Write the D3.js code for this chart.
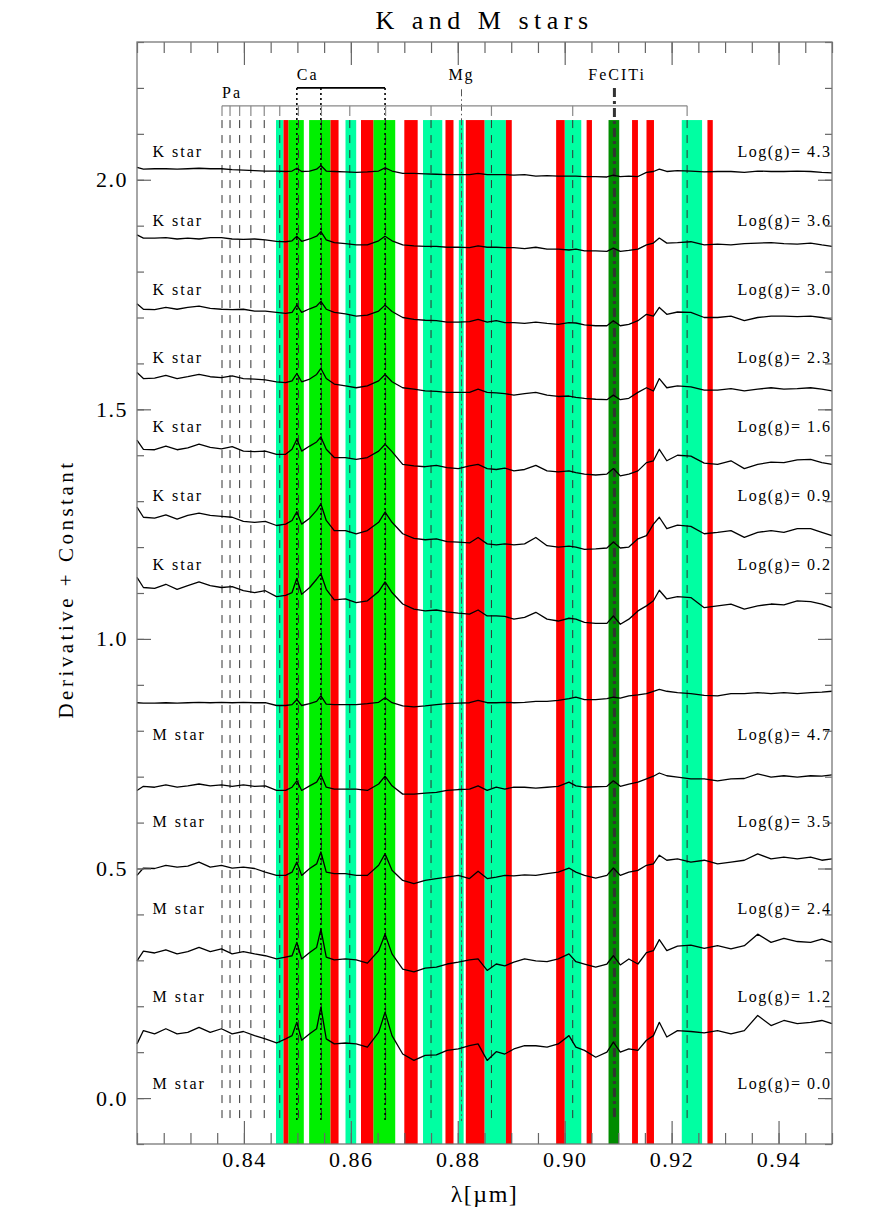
<!DOCTYPE html>
<html>
<head>
<meta charset="utf-8">
<script src="https://cdn.jsdelivr.net/npm/d3@7"></script>
<style>
  body { margin: 0; background: #fff; }
  svg text { font-family: "Liberation Serif", "DejaVu Serif", "Times New Roman", serif; fill: #000; }
</style>
</head>
<body>
<div id="viz"></div>
<script>
// wavelength grid (micron) shared by all spectra
const lam = [0.8200,0.8212,0.8233,0.8254,0.8275,0.8295,0.8316,0.8337,0.8358,0.8378,0.8399,0.8420,0.8440,0.8461,0.8478,0.8490,0.8499,0.8508,0.8523,0.8536,
  0.8544,0.8554,0.8569,0.8590,0.8610,0.8631,0.8652,0.8664,0.8677,0.8697,0.8718,0.8739,0.8760,0.8780,0.8801,0.8822,0.8838,0.8855,0.8872,0.8888,
  0.8905,0.8925,0.8946,0.8967,0.8988,0.9008,0.9021,0.9037,0.9058,0.9079,0.9091,0.9104,0.9120,0.9137,0.9153,0.9166,0.9177,0.9191,0.9211,0.9236,
  0.9261,0.9286,0.9311,0.9336,0.9361,0.9386,0.9410,0.9435,0.9460,0.9481,0.9500];

// derivative of each spectrum (before adding the constant)
const derivK43 = [0.004,0,0.001,0.001,0,0.001,0.002,0.001,0.001,-0.001,
  -0.002,-0.003,-0.004,-0.004,-0.005,-0.004,0.002,-0.005,-0.004,0,
  0.008,-0.004,-0.005,-0.006,-0.007,-0.006,-0.004,0.003,-0.004,-0.009,
  -0.009,-0.010,-0.011,-0.012,-0.012,-0.012,-0.009,-0.012,-0.012,-0.012,
  -0.013,-0.012,-0.015,-0.014,-0.015,-0.015,-0.015,-0.016,-0.016,-0.017,
  -0.013,-0.016,-0.015,-0.016,-0.007,-0.005,0,-0.005,-0.003,-0.004,
  -0.006,-0.005,-0.005,-0.007,-0.004,-0.005,-0.005,-0.004,-0.005,-0.007,-0.008];
const derivK36 = [0.002,-0.005,-0.005,-0.004,-0.007,-0.005,-0.007,-0.004,-0.004,-0.007,
  -0.008,-0.007,-0.009,-0.012,-0.013,-0.011,-0.001,-0.012,-0.007,-0.001,
  0.009,-0.009,-0.015,-0.017,-0.020,-0.020,-0.011,-0.001,-0.011,-0.020,
  -0.022,-0.023,-0.023,-0.025,-0.025,-0.026,-0.022,-0.025,-0.025,-0.026,
  -0.026,-0.028,-0.025,-0.029,-0.029,-0.031,-0.029,-0.033,-0.033,-0.034,
  -0.027,-0.034,-0.032,-0.029,-0.020,-0.016,-0.005,-0.016,-0.015,-0.013,
  -0.020,-0.018,-0.020,-0.017,-0.016,-0.015,-0.017,-0.018,-0.016,-0.020,-0.023];
const derivK30 = [0.012,0,-0.001,0.004,0,0.004,0.007,0.002,0,-0.001,
  0,-0.004,-0.004,-0.007,-0.009,-0.007,0.009,-0.007,0.001,0.007,
  0.017,0,-0.007,-0.010,-0.015,-0.013,-0.004,0.009,-0.005,-0.018,
  -0.022,-0.024,-0.025,-0.028,-0.028,-0.027,-0.022,-0.028,-0.025,-0.029,
  -0.029,-0.031,-0.028,-0.031,-0.033,-0.029,-0.030,-0.034,-0.036,-0.036,
  -0.025,-0.036,-0.033,-0.025,-0.011,-0.015,0.004,-0.011,-0.006,-0.007,
  -0.018,-0.018,-0.015,-0.025,-0.018,-0.015,-0.015,-0.016,-0.015,-0.018,-0.022];
const derivK23 = [0.013,0,0.001,0.007,0,0.004,0.009,0.004,0.002,0.006,
  0,-0.001,-0.003,-0.007,-0.009,-0.005,0.011,-0.007,-0.001,0.009,
  0.022,0,-0.012,-0.016,-0.020,-0.016,-0.005,0.009,-0.007,-0.020,
  -0.023,-0.027,-0.028,-0.030,-0.030,-0.030,-0.023,-0.030,-0.031,-0.033,
  -0.036,-0.033,-0.030,-0.036,-0.039,-0.038,-0.041,-0.043,-0.045,-0.046,
  -0.036,-0.046,-0.043,-0.030,-0.020,-0.027,0,-0.020,-0.016,-0.018,
  -0.025,-0.025,-0.022,-0.027,-0.023,-0.020,-0.023,-0.022,-0.020,-0.023,-0.027];
const derivK16 = [0.020,0,-0.001,0.007,-0.001,0.003,0.011,0.004,0.001,0.006,
  -0.004,-0.005,-0.004,-0.011,-0.011,0,0.022,-0.004,0.007,0.016,
  0.027,0,-0.018,-0.018,-0.022,-0.018,-0.004,0.011,-0.005,-0.033,
  -0.036,-0.038,-0.035,-0.040,-0.042,-0.036,-0.033,-0.042,-0.044,-0.041,
  -0.047,-0.044,-0.035,-0.047,-0.049,-0.047,-0.051,-0.054,-0.056,-0.054,
  -0.042,-0.058,-0.054,-0.047,-0.029,-0.025,0,-0.025,-0.013,-0.015,
  -0.030,-0.033,-0.025,-0.042,-0.033,-0.028,-0.029,-0.023,-0.022,-0.029,-0.033];
const derivK09 = [0.022,0,-0.002,0.005,-0.004,0.004,0.009,0.004,0.002,0,
  -0.009,-0.011,-0.009,-0.018,-0.015,-0.007,0.012,-0.015,-0.002,0.015,
  0.029,-0.007,-0.029,-0.029,-0.036,-0.029,-0.011,0.011,-0.011,-0.036,
  -0.046,-0.049,-0.047,-0.053,-0.054,-0.056,-0.044,-0.058,-0.060,-0.058,
  -0.060,-0.058,-0.044,-0.062,-0.065,-0.063,-0.065,-0.070,-0.069,-0.067,
  -0.054,-0.067,-0.065,-0.047,-0.040,-0.015,0,-0.025,-0.017,-0.020,
  -0.036,-0.033,-0.029,-0.044,-0.033,-0.029,-0.033,-0.025,-0.025,-0.033,-0.040];
const derivK02 = [0.022,0,-0.002,0.007,-0.004,0.004,0.012,0.004,0,0.002,
  -0.007,-0.011,-0.007,-0.020,-0.017,-0.011,0.020,-0.015,0,0.018,
  0.030,-0.004,-0.027,-0.025,-0.033,-0.029,-0.009,0.012,-0.011,-0.036,
  -0.047,-0.051,-0.049,-0.053,-0.056,-0.058,-0.049,-0.062,-0.062,-0.063,
  -0.069,-0.065,-0.054,-0.069,-0.073,-0.067,-0.069,-0.076,-0.078,-0.078,
  -0.062,-0.080,-0.069,-0.051,-0.040,-0.029,-0.006,-0.025,-0.020,-0.022,
  -0.044,-0.040,-0.036,-0.047,-0.040,-0.036,-0.038,-0.029,-0.031,-0.036,-0.044];
const derivM47 = [0,-0.001,-0.001,0,-0.001,0,0.001,0,0.001,0,
  0.001,0,0,-0.006,-0.006,-0.004,0.007,-0.006,-0.002,0.003,
  0.015,-0.003,-0.004,-0.004,-0.004,-0.002,0.001,0.011,0,-0.007,
  -0.009,-0.007,-0.004,-0.002,-0.001,0,0.005,0,0,0.001,
  0,0.001,0.003,0.003,0.005,0.009,0.012,0.007,0.007,0.009,
  0.012,0.010,0.015,0.017,0.020,0.025,0.029,0.025,0.022,0.020,
  0.016,0.015,0.020,0.020,0.022,0.020,0.022,0.020,0.022,0.023,0.025];
const derivM35 = [-0.009,0,-0.002,0.003,-0.002,0.001,0.005,0.001,0.003,0,
  0.003,0,0.001,-0.009,-0.009,-0.002,0.012,-0.009,0.001,0.009,
  0.025,-0.002,-0.006,-0.006,-0.006,-0.009,0.005,0.022,0.001,-0.017,
  -0.017,-0.015,-0.013,-0.009,-0.007,-0.006,0.001,-0.009,-0.002,-0.006,
  -0.002,-0.002,-0.004,-0.002,0,0.009,0.001,-0.002,-0.001,0,
  0.012,0,0.005,0.009,0.016,0.022,0.029,0.023,0.020,0.016,
  0.016,0.012,0.016,0.017,0.027,0.020,0.023,0.020,0.023,0.022,0.025];
const derivM24 = [-0.016,0,-0.001,0.006,0.002,0.004,0.013,0.002,0.006,0,
  0.002,-0.001,-0.009,-0.016,-0.016,-0.009,0.013,-0.016,-0.001,0.009,
  0.035,-0.009,-0.012,-0.012,-0.016,-0.016,0.006,0.031,-0.005,-0.027,
  -0.034,-0.027,-0.023,-0.020,-0.016,-0.023,-0.007,-0.023,-0.020,-0.016,
  -0.017,-0.015,-0.016,-0.012,-0.009,0,-0.009,-0.016,-0.022,-0.016,
  0,-0.016,-0.009,-0.005,0.006,0.009,0.028,0.017,0.020,0.013,
  0.017,0.009,0.013,0.017,0.031,0.020,0.024,0.020,0.024,0.017,0.020];
const derivM12 = [-0.017,0.004,0,0.007,-0.002,0.003,0.012,0.003,0.009,-0.002,
  0.003,-0.002,-0.006,-0.013,-0.009,-0.006,0.023,-0.013,0.001,0.012,
  0.052,-0.009,-0.015,-0.013,-0.015,-0.022,0.005,0.041,-0.002,-0.035,
  -0.041,-0.033,-0.031,-0.024,-0.020,-0.015,-0.013,-0.038,-0.024,-0.028,
  -0.020,-0.013,-0.017,-0.019,-0.013,-0.002,-0.019,-0.024,-0.031,-0.024,
  -0.006,-0.026,-0.013,-0.024,0.001,0.005,0.029,0.005,0.015,0.017,
  0.010,0.016,0.009,0.016,0.041,0.023,0.032,0.025,0.023,0.030,0.023];
const derivM00 = [-0.024,0.005,-0.002,0.009,-0.002,0.001,0.012,0.001,0.009,-0.002,
  0.003,-0.006,-0.013,-0.022,-0.013,-0.006,0.023,-0.016,-0.002,0.009,
  0.056,-0.013,-0.024,-0.022,-0.024,-0.031,0.001,0.045,-0.006,-0.046,
  -0.060,-0.049,-0.048,-0.038,-0.035,-0.028,-0.024,-0.060,-0.041,-0.046,
  -0.035,-0.028,-0.028,-0.031,-0.024,-0.006,-0.031,-0.038,-0.053,-0.042,
  -0.020,-0.042,-0.035,-0.038,-0.016,-0.006,0.023,-0.009,0.005,0.003,
  0,0.005,-0.002,0.005,0.038,0.016,0.027,0.020,0.023,0.027,0.020];

// constants added to each derivative, and surface gravities
const kConstants = [2.023, 1.878, 1.718, 1.567, 1.413, 1.265, 1.112];
const mConstants = [0.861, 0.679, 0.501, 0.316, 0.142];
const kLogg = ['4.3', '3.6', '3.0', '2.3', '1.6', '0.9', '0.2'];
const mLogg = ['4.7', '3.5', '2.4', '1.2', '0.0'];

// shaded windows [start, end] in micron
const cyanBands = [[0.8460,0.8474],[0.8590,0.8610],[0.8735,0.8771],[0.8802,0.8811],[0.8850,0.8890],[0.9000,0.9031],[0.9219,0.9257]];
const redBands = [[0.8474,0.8483],[0.8562,0.8577],[0.8619,0.8642],[0.8700,0.8725],[0.8777,0.8792],[0.8815,0.8850],
  [0.8890,0.8901],[0.8984,0.9000],[0.9041,0.9051],[0.9126,0.9137],[0.9153,0.9167],[0.9267,0.9277]];
const greenBands = [[0.8483,0.8512],[0.8522,0.8562],[0.8642,0.8683]];
const darkGreenBands = [[0.9082,0.9102]];

// line identifications
const paLines = [0.8359,0.8374,0.8392,0.8413,0.8438,0.8467,0.8502,0.8545,0.8598,0.8665,0.8750,0.8863,0.9015,0.9229];
const caLines = [0.8499,0.8544,0.8664];
const mgLines = [0.8807];
const feLines = [0.9093];

const xTicks = [0.84, 0.86, 0.88, 0.90, 0.92, 0.94];
const yTicks = [0.0, 0.5, 1.0, 1.5, 2.0];

let margin = { top: 42, right: 40, bottom: 88, left: 137 },
    width = 872 - margin.left - margin.right,
    height = 1102;

let x = d3.scaleLinear().domain([0.82, 0.95]).range([0, width]);
let y = d3.scaleLinear().domain([-0.1, 2.3]).range([height, 0]);

let svg = d3.select('#viz').append('svg')
    .attr('width', 872)
    .attr('height', 1232);

let chart = svg.append('g')
    .attr('transform', 'translate(' + margin.left + ',' + margin.top + ')');

// colored windows
function bands(list, color) {
  chart.append('g').selectAll('rect').data(list)
    .enter().append('rect')
    .attr('x', d => x(d[0]))
    .attr('width', d => x(d[1]) - x(d[0]))
    .attr('y', y(2.13))
    .attr('height', y(-0.1) - y(2.13))
    .attr('fill', color);
}
bands(cyanBands, '#00ffa2');
bands(greenBands, '#00f000');
bands(redBands, '#ff0000');
bands(darkGreenBands, '#008c00');

// vertical identification lines
function vlines(list, top, color, w, dash) {
  chart.append('g').selectAll('line').data(list)
    .enter().append('line')
    .attr('x1', d => x(d)).attr('x2', d => x(d))
    .attr('y1', y(top)).attr('y2', y(-0.05))
    .attr('stroke', color)
    .attr('stroke-width', w)
    .attr('stroke-dasharray', dash);
}
vlines(paLines, 2.13, '#333', 1, '8,7');
vlines(caLines, 2.2, '#000', 1.6, '2,3');
vlines(mgLines, 2.197, '#555', 1, '7,3,1.5,3');
vlines(feLines, 2.2, '#333', 3, '9,4,3,4');

// Paschen bracket
chart.append('line')
  .attr('x1', x(paLines[0])).attr('x2', x(paLines[paLines.length - 1]))
  .attr('y1', y(2.161)).attr('y2', y(2.161))
  .attr('stroke', '#888').attr('stroke-width', 1.2);
chart.append('g').selectAll('line').data(paLines)
  .enter().append('line')
  .attr('x1', d => x(d)).attr('x2', d => x(d))
  .attr('y1', y(2.161)).attr('y2', y(2.139))
  .attr('stroke', '#888').attr('stroke-width', 1.2);

// Ca triplet bracket
chart.append('line')
  .attr('x1', x(caLines[0])).attr('x2', x(caLines[2]))
  .attr('y1', y(2.2)).attr('y2', y(2.2))
  .attr('stroke', '#000').attr('stroke-width', 1.6);

let smallFont = '16px';
chart.append('text').attr('x', x(0.8359)).attr('y', y(2.179))
  .style('font-size', smallFont).style('letter-spacing', '2px').text('Pa');
chart.append('text').attr('x', x(0.8499)).attr('y', y(2.218))
  .style('font-size', smallFont).style('letter-spacing', '2px').text('Ca');
chart.append('text').attr('x', x(0.8807)).attr('y', y(2.218))
  .attr('text-anchor', 'middle')
  .style('font-size', smallFont).style('letter-spacing', '2px').text('Mg');
chart.append('text').attr('x', x(0.9098)).attr('y', y(2.218))
  .attr('text-anchor', 'middle')
  .style('font-size', smallFont).style('letter-spacing', '2px').text('FeCITi');

// spectra
let line = d3.line()
  .x((d, i) => x(lam[i]))
  .y(d => y(d));

let kSeries = [derivK43, derivK36, derivK30, derivK23, derivK16, derivK09, derivK02];
let mSeries = [derivM47, derivM35, derivM24, derivM12, derivM00];

let spectra = [];
kSeries.forEach((s, i) => spectra.push(s.map(v => v + kConstants[i])));
mSeries.forEach((s, i) => spectra.push(s.map(v => v + mConstants[i])));

chart.append('g').selectAll('path').data(spectra)
  .enter().append('path')
  .attr('d', line)
  .attr('fill', 'none')
  .attr('stroke', '#000')
  .attr('stroke-width', 1.3)
  .attr('stroke-linejoin', 'round');

// star labels
let labels = [];
kLogg.forEach((g, i) => labels.push({ name: 'K star', g: g, v: 2.05 - 0.15 * i }));
mLogg.forEach((g, i) => labels.push({ name: 'M star', g: g, v: 0.78 - 0.19 * i }));

chart.append('g').selectAll('text').data(labels)
  .enter().append('text')
  .attr('x', x(0.8229))
  .attr('y', d => y(d.v))
  .style('font-size', smallFont)
  .style('letter-spacing', '2px')
  .text(d => d.name);

chart.append('g').selectAll('text').data(labels)
  .enter().append('text')
  .attr('x', x(0.9499))
  .attr('y', d => y(d.v))
  .attr('text-anchor', 'end')
  .style('font-size', smallFont)
  .style('letter-spacing', '1.5px')
  .text(d => 'Log(g)= ' + d.g);

// axes: major and minor ticks on all four sides, pointing inward
function clean(g, size) {
  g.select('.domain').remove();
  g.attr('font-family', null);
  g.selectAll('line').attr('stroke', '#666').attr('stroke-width', 1.2);
  g.selectAll('text').style('font-size', size).style('letter-spacing', '1.5px');
}

chart.append('g').attr('transform', 'translate(0,' + height + ')')
  .call(d3.axisBottom(x).tickValues(xTicks).tickSize(-23).tickPadding(7).tickFormat(d3.format('.2f')))
  .call(g => clean(g, '22px'));
chart.append('g').attr('transform', 'translate(0,' + height + ')')
  .call(d3.axisBottom(x).ticks(26).tickSize(-11).tickFormat(''))
  .call(g => clean(g, '22px'));
chart.append('g')
  .call(d3.axisTop(x).tickValues(xTicks).tickSize(-23).tickFormat(''))
  .call(g => clean(g, '22px'));
chart.append('g')
  .call(d3.axisTop(x).ticks(26).tickSize(-11).tickFormat(''))
  .call(g => clean(g, '22px'));

chart.append('g')
  .call(d3.axisLeft(y).tickValues(yTicks).tickSize(-14).tickPadding(9).tickFormat(d3.format('.1f')))
  .call(g => clean(g, '22px'));
chart.append('g')
  .call(d3.axisLeft(y).ticks(24).tickSize(-7).tickFormat(''))
  .call(g => clean(g, '22px'));
chart.append('g').attr('transform', 'translate(' + width + ',0)')
  .call(d3.axisRight(y).tickValues(yTicks).tickSize(-14).tickFormat(''))
  .call(g => clean(g, '22px'));
chart.append('g').attr('transform', 'translate(' + width + ',0)')
  .call(d3.axisRight(y).ticks(24).tickSize(-7).tickFormat(''))
  .call(g => clean(g, '22px'));

chart.append('rect')
  .attr('width', width).attr('height', height)
  .attr('fill', 'none')
  .attr('stroke', '#777')
  .attr('stroke-width', 1.3);

// titles
svg.append('text')
  .attr('x', margin.left + width / 2).attr('y', 29)
  .attr('text-anchor', 'middle')
  .style('font-size', '26px').style('letter-spacing', '5.5px')
  .text('K and M stars');

svg.append('text')
  .attr('x', margin.left + width / 2).attr('y', 1202)
  .attr('text-anchor', 'middle')
  .style('font-size', '24px').style('letter-spacing', '1.5px')
  .text('λ[µm]');

svg.append('text')
  .attr('transform', 'translate(73,589) rotate(-90)')
  .attr('text-anchor', 'middle')
  .style('font-size', '21px').style('letter-spacing', '3.5px')
  .text('Derivative + Constant');
</script>
</body>
</html>
